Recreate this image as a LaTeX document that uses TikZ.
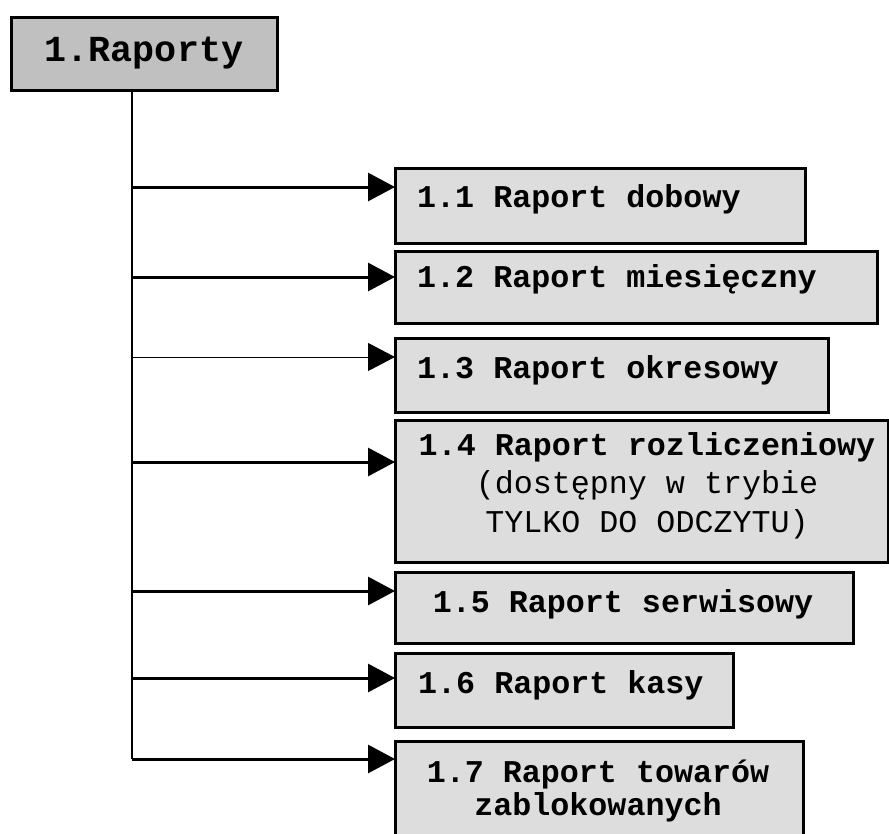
\documentclass[tikz,border=0pt]{standalone}
\usepackage{fontspec}
\setmonofont{Liberation Mono}
\usetikzlibrary{arrows.meta,positioning}
\definecolor{rootgray}{HTML}{C0C0C0}
\definecolor{boxgray}{HTML}{DDDDDD}

\begin{document}
\begin{tikzpicture}
[
  x=1pt, y=-1pt,
  rootbox/.style={draw, line width=3pt, fill=rootgray, inner sep=0pt, outer sep=0pt,
    font=\ttfamily\bfseries\fontsize{36.7}{44}\selectfont},
  subbox/.style={draw, line width=3pt, fill=boxgray, anchor=north west, inner sep=0pt, outer sep=0pt},
  boxtext/.style={inner sep=0pt, font=\ttfamily\bfseries\fontsize{31.7}{38.5}\selectfont},
  branch/.style={line width=3pt, -{Triangle[length=27pt,width=28pt]}},
  thinbranch/.style={line width=1pt, -{Triangle[length=27pt,width=28pt]}},
  spine/.style={line width=2pt}
]
\useasboundingbox (0,0) rectangle (889,833);
\node[rootbox, minimum width=266, minimum height=73] (root) at (144,53.5) {1.Raporty};

\node[subbox, minimum width=410, minimum height=75] (r1) at (395,168) {};
\node[subbox, minimum width=482, minimum height=72] (r2) at (395,251) {};
\node[subbox, minimum width=433, minimum height=74] (r3) at (395,338) {};
\node[subbox, minimum width=493, minimum height=142] (r4) at (395,420) {};
\node[subbox, minimum width=458, minimum height=71] (r5) at (395,572) {};
\node[subbox, minimum width=338, minimum height=74] (r6) at (395,653) {};
\node[subbox, minimum width=408, minimum height=100] (r7) at (395,741) {};

\node[boxtext, anchor=base west] (t1) at (417,207) {1.1 Raport dobowy};
\node[boxtext, anchor=base west] (t2) at (417,287) {1.2 Raport miesięczny};
\node[boxtext, anchor=base west] (t3) at (417,378) {1.3 Raport okresowy};
\node[boxtext, anchor=base, align=center] (t4) at (647,532)
  {1.4 Raport rozliczeniowy\\{\mdseries(dostępny w trybie}\\{\mdseries TYLKO DO ODCZYTU)}};
\node[boxtext, anchor=base] (t5) at (623,612) {1.5 Raport serwisowy};
\node[boxtext, anchor=base west] (t6) at (418,693) {1.6 Raport kasy};
\node[boxtext, anchor=base, align=center] (t7) at (598,815)
  {1.7 Raport towarów\\[-5.5pt]zablokowanych};

\coordinate (foot) at (132,759);
\draw[spine] (root.south -| foot) -- (foot);
\foreach \b/\d in {r1/19,r2/26,r4/42,r5/19,r6/25,r7/18}
{
  \coordinate (tip) at ([yshift=-\d pt]\b.north west);
  \draw[branch] (tip -| foot) -- (tip);
}
\coordinate (tip3) at ([yshift=-19pt]r3.north west);
\draw[thinbranch] (tip3 -| foot) -- (tip3);
\end{tikzpicture}
\end{document}
